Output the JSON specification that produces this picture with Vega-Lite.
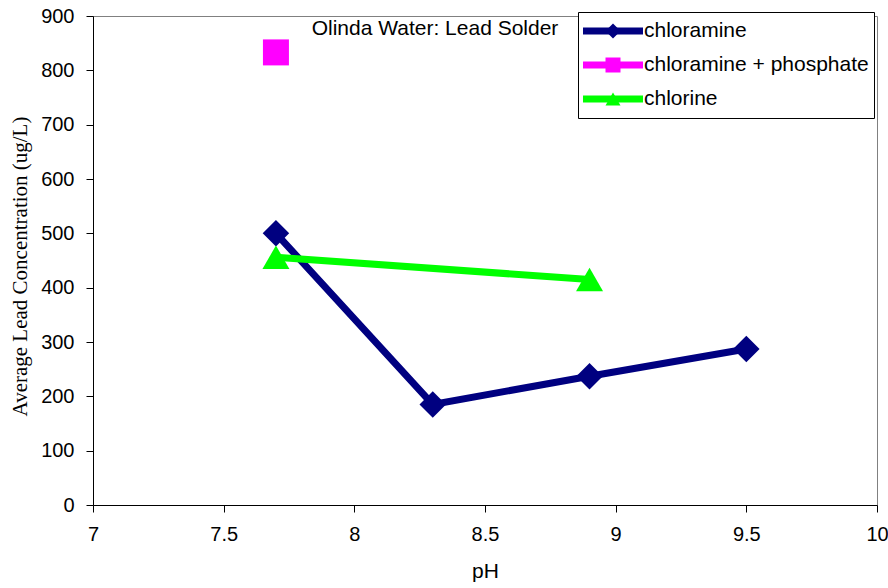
{
  "$schema": "https://vega.github.io/schema/vega-lite/v6.json",
  "width": 784,
  "height": 489,
  "autosize": {"type": "none"},
  "padding": {"left": 93, "top": 16, "right": 11, "bottom": 83},
  "background": "white",
  "config": {
    "view": {"stroke": "#808080", "strokeWidth": 1},
    "font": "Liberation Sans"
  },
  "title": {
    "text": "Olinda Water: Lead Solder",
    "font": "Liberation Sans",
    "fontSize": 21,
    "fontWeight": "normal",
    "color": "black",
    "anchor": "middle",
    "dx": -50,
    "offset": -33
  },
  "data": {
    "values": [
      {"series": "chloramine", "pH": 7.7, "lead": 500},
      {"series": "chloramine", "pH": 8.3, "lead": 185},
      {"series": "chloramine", "pH": 8.9, "lead": 237},
      {"series": "chloramine", "pH": 9.5, "lead": 287},
      {"series": "chloramine + phosphate", "pH": 7.7, "lead": 833},
      {"series": "chlorine", "pH": 7.7, "lead": 456},
      {"series": "chlorine", "pH": 8.9, "lead": 415}
    ]
  },
  "encoding": {
    "x": {
      "field": "pH",
      "type": "quantitative",
      "scale": {"domain": [7, 10], "nice": false, "zero": false},
      "axis": {
        "values": [7, 7.5, 8, 8.5, 9, 9.5, 10],
        "format": "~g",
        "grid": false,
        "domainColor": "black",
        "tickColor": "black",
        "tickSize": 7,
        "labelFont": "Liberation Sans",
        "labelFontSize": 20,
        "labelColor": "black",
        "labelPadding": 12,
        "labelFlush": false,
        "labelOverlap": false,
        "title": "pH",
        "titleFont": "Liberation Sans",
        "titleFontSize": 21,
        "titleFontWeight": "normal",
        "titleColor": "black",
        "titlePadding": 16
      }
    },
    "y": {
      "field": "lead",
      "type": "quantitative",
      "scale": {"domain": [0, 900], "nice": false},
      "axis": {
        "values": [0, 100, 200, 300, 400, 500, 600, 700, 800, 900],
        "grid": false,
        "domainColor": "black",
        "tickColor": "black",
        "tickSize": 7,
        "labelFont": "Liberation Sans",
        "labelFontSize": 20,
        "labelColor": "black",
        "labelPadding": 12,
        "labelFlush": false,
        "labelOverlap": false,
        "title": "Average Lead Concentration (ug/L)",
        "titleFont": "Liberation Serif",
        "titleFontSize": 21,
        "titleFontWeight": "normal",
        "titleColor": "black",
        "titleX": -73,
        "titleY": 250,
        "titleAlign": "center",
        "titleBaseline": "middle"
      }
    }
  },
  "layer": [
    {
      "mark": {"type": "line", "strokeWidth": 7},
      "encoding": {
        "stroke": {
          "field": "series",
          "type": "nominal",
          "scale": {
            "range": ["#000080", "#FF00FF", "#00FF00"]
          },
          "legend": {
            "title": null,
            "orient": "none",
            "legendX": 485,
            "legendY": -4,
            "direction": "vertical",
            "fillColor": "white",
            "strokeColor": "black",
            "padding": 5,
            "symbolType": "M-1.333,0H4.381",
            "symbolSize": 441,
            "symbolStrokeWidth": 7,
            "clipHeight": 28,
            "rowPadding": 6,
            "labelFont": "Liberation Sans",
            "labelFontSize": 21,
            "labelColor": "black",
            "labelOffset": 33,
            "labelLimit": 400,
            "zindex": 0
          }
        }
      }
    },
    {
      "mark": {"type": "point", "filled": true, "opacity": 1},
      "encoding": {
        "color": {
          "field": "series",
          "type": "nominal",
          "scale": {
            "domain": ["chloramine", "chloramine + phosphate", "chlorine"],
            "range": ["#000080", "#FF00FF", "#00FF00"]
          },
          "legend": {
            "title": null,
            "orient": "none",
            "legendX": 485,
            "legendY": -4,
            "direction": "vertical",
            "fillColor": "transparent",
            "strokeColor": "transparent",
            "padding": 5,
            "symbolSize": 225,
            "symbolStrokeWidth": 13,
            "symbolStrokeColor": "transparent",
            "symbolOffset": 16,
            "clipHeight": 28,
            "rowPadding": 6,
            "labelExpr": "''",
            "labelFontSize": 1,
            "labelOffset": 0,
            "zindex": 1
          }
        },
        "shape": {
          "field": "series",
          "type": "nominal",
          "scale": {
            "domain": ["chloramine", "chloramine + phosphate", "chlorine"],
            "range": ["diamond", "square", "triangle-up"]
          }
        },
        "size": {
          "field": "series",
          "type": "nominal",
          "scale": {
            "domain": ["chloramine + phosphate", "chloramine", "chlorine"],
            "range": [676, 729, 484]
          },
          "legend": null
        }
      }
    }
  ]
}
